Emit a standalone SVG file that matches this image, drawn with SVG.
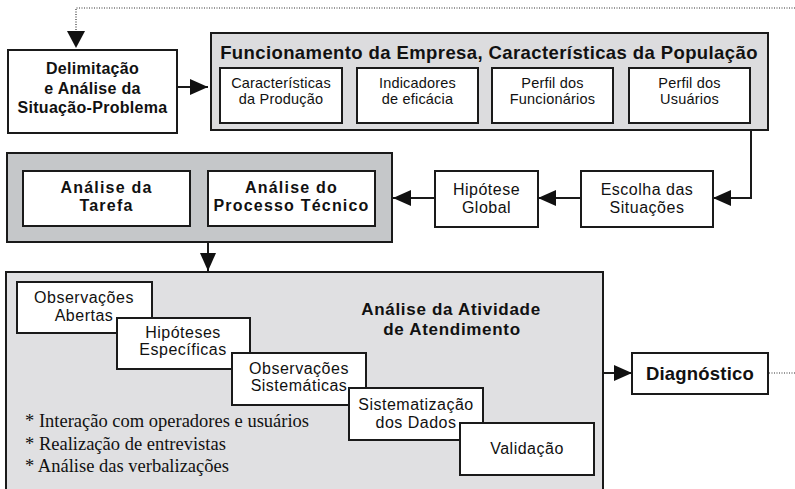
<svg xmlns="http://www.w3.org/2000/svg" width="795" height="489" viewBox="0 0 795 489">
<style>
.box{fill:#fff;stroke:#1a1a1a;stroke-width:2}
.t{font-family:"Liberation Sans",Arial,sans-serif;font-size:14.5px;fill:#111;text-anchor:middle;letter-spacing:0.2px}
.m{font-family:"Liberation Sans",Arial,sans-serif;font-size:16px;fill:#111;text-anchor:middle;letter-spacing:0.5px}
.b{font-family:"Liberation Sans",Arial,sans-serif;font-weight:bold;fill:#111;text-anchor:middle}
.s{font-family:"Liberation Serif","Times New Roman",serif;font-size:18.5px;fill:#111}
.ln{fill:none;stroke:#1a1a1a;stroke-width:2}
.dot{fill:none;stroke:#333;stroke-width:1.2;stroke-dasharray:1 1.5}
.head{fill:#111}
</style>
<defs>
<marker id="ah" markerWidth="18" markerHeight="16" refX="18" refY="8" orient="auto" markerUnits="userSpaceOnUse">
<path d="M0,0 L18,8 L0,16 Z" fill="#111"/>
</marker>
</defs>
<rect width="795" height="489" fill="#fff"/>

<g id="connectors">
<polyline class="dot" points="795,8 76,8 76,32"/>
<polygon class="head" points="67,31 85,31 76,48"/>
<line class="ln" x1="177" y1="87" x2="208" y2="87" marker-end="url(#ah)"/>
<line class="ln" x1="342" y1="95" x2="357" y2="95"/>
<line class="ln" x1="478" y1="95" x2="492" y2="95"/>
<line class="ln" x1="613" y1="95" x2="629" y2="95"/>
<polyline class="ln" points="751,130 751,198 713,198" marker-end="url(#ah)"/>
<line class="ln" x1="581" y1="198" x2="538" y2="198" marker-end="url(#ah)"/>
<line class="ln" x1="435" y1="198" x2="393" y2="198" marker-end="url(#ah)"/>
<line class="ln" x1="208" y1="242" x2="208" y2="271" marker-end="url(#ah)"/>
<line class="ln" x1="603" y1="373" x2="632" y2="373" marker-end="url(#ah)"/>
<line class="dot" x1="769" y1="373" x2="795" y2="373"/>
</g>

<g id="delimitacao">
<rect class="box" x="8" y="50" width="169" height="83"/>
<text class="b" font-size="16" letter-spacing="0.3" x="92.5" y="74">Delimitação</text>
<text class="b" font-size="16" letter-spacing="0.3" x="92.5" y="94">e Análise da</text>
<text class="b" font-size="16" letter-spacing="0.3" x="92.5" y="113">Situação-Problema</text>
</g>

<g id="funcionamento">
<rect x="211" y="33" width="557" height="97" fill="#dcdcde" stroke="#1a1a1a" stroke-width="2"/>
<text class="b" font-size="18.5" letter-spacing="0.4" x="489" y="59">Funcionamento da Empresa, Características da População</text>
<g id="caracteristicas">
<rect class="box" x="220" y="68" width="122" height="55"/>
<text class="t" x="281" y="88">Características</text>
<text class="t" x="281" y="104">da Produção</text>
</g>
<g id="indicadores">
<rect class="box" x="357" y="68" width="121" height="55"/>
<text class="t" x="417.5" y="88">Indicadores</text>
<text class="t" x="417.5" y="104">de eficácia</text>
</g>
<g id="perfil-funcionarios">
<rect class="box" x="492" y="68" width="121" height="55"/>
<text class="t" x="552.5" y="88">Perfil dos</text>
<text class="t" x="552.5" y="104">Funcionários</text>
</g>
<g id="perfil-usuarios">
<rect class="box" x="629" y="68" width="121" height="55"/>
<text class="t" x="689.5" y="88">Perfil dos</text>
<text class="t" x="689.5" y="104">Usuários</text>
</g>
</g>

<g id="analise-tarefa-processo">
<rect x="7" y="153" width="385" height="89" fill="#c5c7c9" stroke="#1a1a1a" stroke-width="2"/>
<g id="analise-tarefa">
<rect class="box" x="23" y="171" width="167" height="55"/>
<text class="b" font-size="16" letter-spacing="1.2" x="106.5" y="193">Análise da</text>
<text class="b" font-size="16" letter-spacing="1.2" x="106.5" y="211">Tarefa</text>
</g>
<g id="analise-processo">
<rect class="box" x="208" y="171" width="167" height="55"/>
<text class="b" font-size="16" letter-spacing="1.2" x="291.5" y="193">Análise do</text>
<text class="b" font-size="16" letter-spacing="1.2" x="291.5" y="211">Processo Técnico</text>
</g>
</g>

<g id="hipotese-global">
<rect class="box" x="435" y="171" width="103" height="56"/>
<text class="m" x="486.5" y="195">Hipótese</text>
<text class="m" x="486.5" y="213">Global</text>
</g>

<g id="escolha-situacoes">
<rect class="box" x="581" y="171" width="132" height="56"/>
<text class="m" x="647" y="195">Escolha das</text>
<text class="m" x="647" y="213">Situações</text>
</g>

<g id="analise-atividade">
<rect x="6" y="272" width="597" height="225" fill="#e0e0e2" stroke="#1a1a1a" stroke-width="2"/>
<text class="b" font-size="17" letter-spacing="0.7" x="451" y="315">Análise da Atividade</text>
<text class="b" font-size="17" letter-spacing="0.7" x="452" y="335">de Atendimento</text>
<g id="obs-abertas">
<rect class="box" x="17" y="282" width="135" height="51"/>
<text class="m" x="84" y="303">Observações</text>
<text class="m" x="84" y="321">Abertas</text>
</g>
<g id="hip-especificas">
<rect class="box" x="117" y="318" width="133" height="51"/>
<text class="m" x="183" y="338">Hipóteses</text>
<text class="m" x="183" y="355">Específicas</text>
</g>
<g id="obs-sistematicas">
<rect class="box" x="232" y="353" width="134" height="52"/>
<text class="m" x="299" y="374">Observações</text>
<text class="m" x="299" y="391">Sistemáticas</text>
</g>
<g id="sistematizacao">
<rect class="box" x="349" y="388" width="134" height="52"/>
<text class="m" x="416" y="410">Sistematização</text>
<text class="m" x="416" y="428">dos Dados</text>
</g>
<g id="validacao">
<rect class="box" x="460" y="423" width="134" height="52"/>
<text class="m" x="527" y="454">Validação</text>
</g>
<text class="s" x="25" y="427">* Interação com operadores e usuários</text>
<text class="s" x="25" y="450">* Realização de entrevistas</text>
<text class="s" x="25" y="472">* Análise das verbalizações</text>
</g>

<g id="diagnostico">
<rect class="box" x="632" y="353" width="136" height="41"/>
<text class="b" font-size="18.5" letter-spacing="0.2" x="700" y="380">Diagnóstico</text>
</g>
</svg>
